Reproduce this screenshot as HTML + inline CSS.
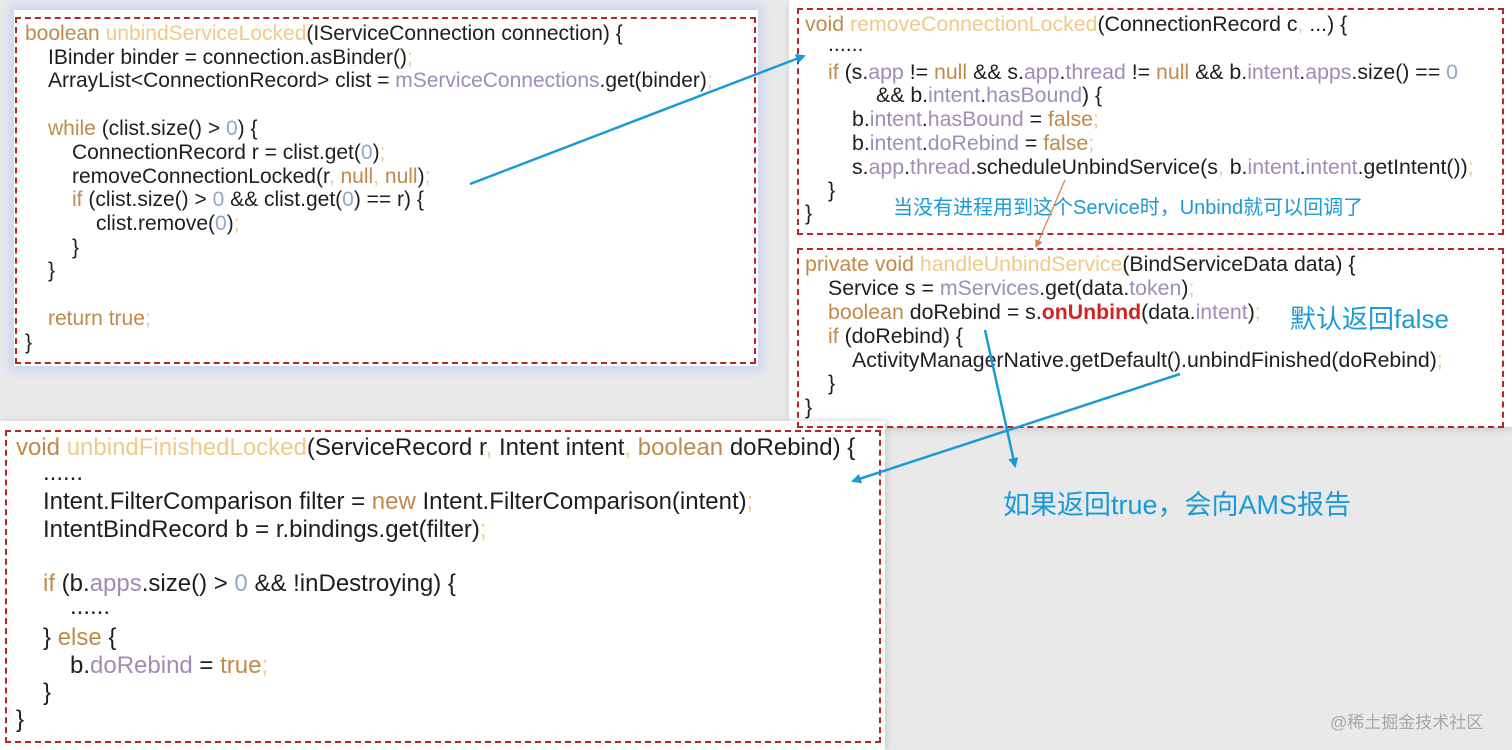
<!DOCTYPE html>
<html><head><meta charset="utf-8">
<style>
html,body{margin:0;padding:0}
body{width:1512px;height:750px;position:relative;overflow:hidden;background:#e9e9e9;font-family:"Liberation Sans","Noto Sans CJK SC",sans-serif;color:#1e1e1e}
.p{position:absolute;background:#fff}
.b{position:absolute;border:2px dashed #b0282c}
.l{position:absolute;white-space:pre;transform-origin:left top;font-size:21px;line-height:24px}
.R{font-size:21.3px}
.L{font-size:24px;line-height:27px}
.k{color:#c08a4a}.m{color:#f1c98a}.v{color:#a08cb8}.n{color:#90a8c8}
.r{color:#d42222;font-weight:bold}
.c{position:absolute;color:#1b9ad8;white-space:pre;font-family:"Liberation Sans","Noto Sans CJK SC",sans-serif}
</style></head><body>
<div class="p" style="left:14px;top:10px;width:744px;height:356px;box-shadow:0 0 10px 4px #c6d2f2"></div>
<div class="p" style="left:789px;top:0;width:723px;height:427px;box-shadow:0 3px 6px #ccc"></div>
<div class="p" style="left:0;top:421px;width:885px;height:329px;box-shadow:2px 0 6px #ccc"></div>

<div class="b" style="left:15px;top:17px;width:737px;height:343px"></div>
<div class="b" style="left:797px;top:8px;width:703px;height:223px"></div>
<div class="b" style="left:797px;top:248px;width:703px;height:176px"></div>
<div class="b" style="left:5px;top:430px;width:872px;height:309px"></div>

<!-- top-left -->
<div class="l" style="left:25px;top:22px"><span class="k">boolean</span> <span class="m">unbindServiceLocked</span>(IServiceConnection connection) {</div>
<div class="l" style="left:48px;top:46px">IBinder binder = connection.asBinder()<span class="m">;</span></div>
<div class="l" style="left:48px;top:69px">ArrayList&lt;ConnectionRecord&gt; clist = <span class="v">mServiceConnections</span>.get(binder)<span class="m">;</span></div>
<div class="l" style="left:48px;top:117px"><span class="k">while</span> (clist.size() &gt; <span class="n">0</span>) {</div>
<div class="l" style="left:72px;top:141px">ConnectionRecord r = clist.get(<span class="n">0</span>)<span class="m">;</span></div>
<div class="l" style="left:72px;top:165px">removeConnectionLocked(r<span class="m">,</span> <span class="k">null</span><span class="m">,</span> <span class="k">null</span>)<span class="m">;</span></div>
<div class="l" style="left:72px;top:188px"><span class="k">if</span> (clist.size() &gt; <span class="n">0</span> &amp;&amp; clist.get(<span class="n">0</span>) == r) {</div>
<div class="l" style="left:96px;top:212px">clist.remove(<span class="n">0</span>)<span class="m">;</span></div>
<div class="l" style="left:72px;top:236px">}</div>
<div class="l" style="left:48px;top:259px">}</div>
<div class="l" style="left:48px;top:307px"><span class="k">return true</span><span class="m">;</span></div>
<div class="l" style="left:25px;top:331px">}</div>

<!-- right top -->
<div class="l R" style="left:805px;top:12px"><span class="k">void</span> <span class="m">removeConnectionLocked</span>(ConnectionRecord c<span class="m">,</span> ...) {</div>
<div class="l R" style="left:828px;top:32px">......</div>
<div class="l R" style="left:828px;top:60px"><span class="k">if</span> (s.<span class="v">app</span> != <span class="k">null</span> &amp;&amp; s.<span class="v">app</span>.<span class="v">thread</span> != <span class="k">null</span> &amp;&amp; b.<span class="v">intent</span>.<span class="v">apps</span>.size() == <span class="n">0</span></div>
<div class="l R" style="left:876px;top:83px">&amp;&amp; b.<span class="v">intent</span>.<span class="v">hasBound</span>) {</div>
<div class="l R" style="left:852px;top:107px">b.<span class="v">intent</span>.<span class="v">hasBound</span> = <span class="k">false</span><span class="m">;</span></div>
<div class="l R" style="left:852px;top:131px">b.<span class="v">intent</span>.<span class="v">doRebind</span> = <span class="k">false</span><span class="m">;</span></div>
<div class="l R" style="left:852px;top:155px">s.<span class="v">app</span>.<span class="v">thread</span>.scheduleUnbindService(s<span class="m">,</span> b.<span class="v">intent</span>.<span class="v">intent</span>.getIntent())<span class="m">;</span></div>
<div class="l R" style="left:828px;top:178px">}</div>
<div class="l R" style="left:805px;top:201px">}</div>
<div class="c" style="left:893px;top:191px;font-size:20px">当没有进程用到这个Service时，Unbind就可以回调了</div>

<!-- handle -->
<div class="l R" style="left:805px;top:252px"><span class="k">private void</span> <span class="m">handleUnbindService</span>(BindServiceData data) {</div>
<div class="l R" style="left:828px;top:276px">Service s = <span class="v">mServices</span>.get(data.<span class="v">token</span>)<span class="m">;</span></div>
<div class="l R" style="left:828px;top:300px"><span class="k">boolean</span> doRebind = s.<span class="r">onUnbind</span>(data.<span class="v">intent</span>)<span class="m">;</span></div>
<div class="l R" style="left:828px;top:324px"><span class="k">if</span> (doRebind) {</div>
<div class="l R" style="left:852px;top:348px">ActivityManagerNative.getDefault().unbindFinished(doRebind)<span class="m">;</span></div>
<div class="l R" style="left:828px;top:371px">}</div>
<div class="l R" style="left:805px;top:395px">}</div>
<div class="c" style="left:1290px;top:299px;font-size:26px">默认返回false</div>

<!-- bottom -->
<div class="l L" style="left:16px;top:434px"><span class="k">void</span> <span class="m">unbindFinishedLocked</span>(ServiceRecord r<span class="m">,</span> Intent intent<span class="m">,</span> <span class="k">boolean</span> doRebind) {</div>
<div class="l L" style="left:43px;top:459px">......</div>
<div class="l L" style="left:43px;top:488px">Intent.FilterComparison filter = <span class="k">new</span> Intent.FilterComparison(intent)<span class="m">;</span></div>
<div class="l L" style="left:43px;top:516px">IntentBindRecord b = r.bindings.get(filter)<span class="m">;</span></div>
<div class="l L" style="left:43px;top:570px"><span class="k">if</span> (b.<span class="v">apps</span>.size() &gt; <span class="n">0</span> &amp;&amp; !inDestroying) {</div>
<div class="l L" style="left:70px;top:593px">......</div>
<div class="l L" style="left:43px;top:624px">} <span class="k">else</span> {</div>
<div class="l L" style="left:70px;top:652px">b.<span class="v">doRebind</span> = <span class="k">true</span><span class="m">;</span></div>
<div class="l L" style="left:43px;top:679px">}</div>
<div class="l L" style="left:16px;top:706px">}</div>
<div class="c" style="left:1003px;top:483px;font-size:27px">如果返回true，会向AMS报告</div>
<div class="c" style="left:1330px;top:708px;font-size:17px;color:#a8a8a8">@稀土掘金技术社区</div>

<svg style="position:absolute;left:0;top:0" width="1512" height="750">
<defs>
<marker id="a" markerWidth="10" markerHeight="10" refX="8" refY="5" orient="auto" markerUnits="userSpaceOnUse"><path d="M0,0 L10,5 L0,10 z" fill="#1b9ad8"/></marker>
<marker id="o" markerWidth="8" markerHeight="8" refX="7" refY="4" orient="auto" markerUnits="userSpaceOnUse"><path d="M0,0 L8,4 L0,8 z" fill="#d8884a"/></marker>
</defs>
<line x1="470" y1="184" x2="804" y2="56" stroke="#1b9ad8" stroke-width="2.5" marker-end="url(#a)"/>
<line x1="1180" y1="374" x2="853" y2="481" stroke="#1b9ad8" stroke-width="2.5" marker-end="url(#a)"/>
<line x1="985" y1="330" x2="1015" y2="466" stroke="#1b9ad8" stroke-width="2.5" marker-end="url(#a)"/>
<line x1="1065" y1="180" x2="1036" y2="247" stroke="#d8884a" stroke-width="1.3" marker-end="url(#o)"/>
</svg>
</body></html>
